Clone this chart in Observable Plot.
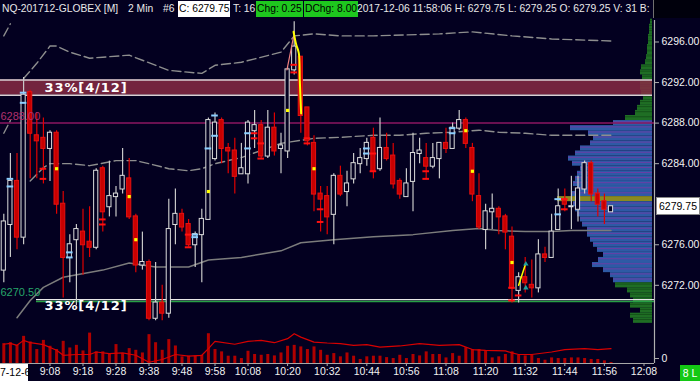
<!DOCTYPE html>
<html><head><meta charset="utf-8">
<script src="https://cdn.jsdelivr.net/npm/d3@7"></script>
<script src="https://cdn.jsdelivr.net/npm/@observablehq/plot@0.6"></script>
<style>
html,body{margin:0;padding:0;background:#030020;}
#wrap{position:relative;width:700px;height:381px;overflow:hidden;background:#030020;font-family:"Liberation Sans",Arial,sans-serif;}
#wrap svg{position:absolute;left:0;}
.hd{position:absolute;top:1px;height:16px;line-height:16px;font-size:10.3px;color:#e8e8e8;white-space:nowrap;z-index:5;}
.ov{position:absolute;z-index:5;font-size:10.5px;white-space:nowrap;text-align:center;}
</style></head>
<body><div id="wrap"></div>
<script>
// ---------- DATA ----------
const firstBar = "2017-12-06T08:54:00Z";
const barMinutes = 2;
const opens  = [6273.5,6278,6282.25,6276.75,6291,6286.75,6286.5,6285.5,6287,6280,6274.75,6276.5,6277.25,6276.25,6275.75,6283.5,6279.75,6280.75,6281.5,6282.5,6278.75,6274,6274.25,6268.75,6270.25,6269.25,6278,6279,6278,6276,6277,6278.5,6284.5,6288.25,6285.5,6285.25,6283,6283,6287.25,6287.75,6284.75,6287.5,6285.5,6285.25,6293.25,6294.5,6289.5,6286,6281,6280.75,6279,6282.75,6281.25,6282.5,6284,6284.5,6286.5,6283.5,6285.5,6284.75,6282.25,6280.75,6282.25,6285,6284.5,6283.75,6284.5,6286,6285.5,6287.5,6288.25,6285.5,6280.75,6277.5,6279.25,6279.5,6278.75,6276.75,6271.5,6272.75,6272,6271.75,6275,6274.75,6277.5,6280.25,6279.75,6279.5,6281.5,6284,6281,6280.25,6279.25];
const highs  = [6279,6285,6285,6292.5,6291.25,6289,6288.5,6287.25,6287.25,6281.25,6277,6278,6279.5,6279.75,6283.5,6283.75,6284.25,6281.75,6285.5,6284.5,6279,6277.25,6274.5,6274.25,6272,6280.5,6281.5,6279.5,6278.5,6277.25,6279.5,6288.5,6289,6288.5,6286,6286.5,6286,6288.25,6289.25,6288.25,6289.25,6289,6287,6293.5,6298,6294.5,6289.5,6286.75,6281.75,6281.75,6283,6283.75,6283.25,6285,6285.5,6286.5,6287.5,6288.5,6287,6286,6282.5,6283.5,6287,6286.5,6286,6286,6286,6287.5,6288,6289.25,6288.5,6286,6283,6280,6281,6279.75,6279,6277.75,6273.25,6274.75,6274.5,6276.5,6275.75,6279,6281.5,6281.5,6282.75,6282.75,6284.25,6284.25,6281.5,6281,6279.75];
const lows   = [6272.25,6274.75,6275.5,6276,6282.5,6282.5,6282,6282.25,6279,6270.75,6272.25,6270,6273,6274.75,6275.5,6277.25,6278.75,6278.75,6281,6278.5,6273.25,6273.5,6268.5,6268.5,6268.5,6268.75,6276,6277.25,6275.75,6273.75,6272.25,6278.5,6284.25,6284,6283,6281,6283,6282,6285.5,6284.5,6284.5,6284.75,6283,6284.5,6292.75,6287,6285.75,6279.25,6277.25,6277,6276,6280.75,6279.75,6282,6283,6283.75,6282.5,6283.25,6284.25,6281.5,6280.5,6280.75,6279.25,6284,6282.5,6283.5,6282.5,6285,6285.5,6287.25,6285.5,6280.25,6277.5,6275.5,6277.5,6277,6275.5,6270.25,6270.25,6271.25,6270.75,6271.25,6274.25,6274.75,6277.5,6279.25,6277.5,6278.25,6281,6280.25,6278.75,6278,6279.25];
const closes = [6278.25,6282.25,6276.75,6290.75,6287,6286.25,6285.5,6287,6280,6274.75,6276,6277.5,6276,6275.75,6283.25,6279.25,6280.75,6281,6282.75,6278.75,6274,6274.25,6268.75,6270.25,6269.25,6277.5,6279,6277.75,6276,6277,6278.5,6288.25,6288,6285.5,6285.25,6282.75,6283.5,6288,6287.75,6284.75,6287.5,6285.25,6285.75,6293.25,6295.5,6288.75,6286.25,6281,6280.5,6278.75,6282.75,6281,6282,6284,6284.5,6286,6283.25,6285.5,6284.5,6282,6281,6282,6285,6285.25,6283.75,6284.5,6286,6285.5,6287.5,6288.25,6286,6281,6277.75,6279.25,6279.5,6278.75,6277.25,6271.75,6272.75,6272.25,6271.75,6275,6274.75,6277.25,6279.75,6280,6279.75,6281.5,6284,6281,6280,6279.5,6279.75];
const volumes = [640,670,585,875,695,450,745,555,450,715,500,585,405,980,375,375,320,610,320,480,425,340,930,670,425,770,565,215,235,235,265,960,450,375,235,235,160,395,290,265,290,245,340,555,585,535,450,535,425,265,320,215,340,235,130,215,235,235,190,160,265,160,290,245,375,290,290,180,320,235,510,450,450,405,180,215,290,375,265,245,265,160,105,180,160,160,180,180,160,130,130,85,31];
const volMAIdx = [0,1,2,3,4,6,8,9,11,13,14,16,18,20,22,24,26,28,30,31,32,35,37,39,41,43,44,45,47,49,51,53,55,57,60,63,66,69,71,73,76,77,78,80,83,85,88,90,92];
const volMAVal = [620,650,585,745,670,610,425,265,290,290,370,320,340,265,40,130,290,235,265,480,715,620,715,745,670,800,960,850,690,660,640,585,610,530,565,640,585,610,450,425,405,340,290,290,370,450,480,450,480];

const timeTickLabels = ["9:08","9:18","9:28","9:38","9:48","9:58","10:08","10:20","10:32","10:44","10:56","11:08","11:20","11:32","11:44","11:56","12:08"];
const priceTicks = [6272,6276,6284,6288,6292,6296];
const lastPrice = 6279.75;

// bands (bar index, price)
const upperBandAIdx = [0,1], upperBandAVal = [6296.6,6297.8];
const upperBandIdx = [3,5,7,8,10,13,15,19,21,25,30,32,36,42,44,47,51,56,66,71,77,83,92];
const upperBandVal = [6292.4,6293.9,6295.6,6295.6,6295.0,6294.4,6294.5,6294.7,6294.2,6293.2,6292.9,6293.7,6294.0,6295.0,6296.6,6296.8,6296.6,6296.6,6296.8,6297.0,6296.6,6296.3,6296.1];
const midBandAIdx = [0,1], midBandAVal = [6287.0,6288.25];
const midBandIdx = [4,6,7,10,13,17,20,22,25,28,30,32,36,42,47,51,56,60,64,68,72,75,79,83,92];
const midBandVal = [6282.3,6283.6,6284.0,6284.0,6283.8,6284.3,6284.3,6284.0,6283.5,6283.3,6283.5,6284.0,6284.6,6286.0,6286.5,6286.6,6286.8,6286.8,6287.0,6287.1,6287.3,6287.1,6287.0,6286.8,6286.8];
const vwapIdx = [2,4,6,9,15,19,23,28,31,36,42,45,50,56,62,68,72,75,79,83,86,92];
const vwapVal = [6268.8,6270.5,6271.8,6272.8,6273.5,6274.2,6273.8,6273.8,6274.5,6274.75,6275.4,6276.2,6276.5,6276.8,6277.0,6277.4,6277.6,6277.4,6277.3,6277.3,6277.4,6277.4];

// markers
const yellowIdx = [8,19,20,31,43,47,70,71,77];
const yellowPrice = [6283.5,6280.75,6276.5,6281.25,6289.25,6283.5,6287.25,6283.25,6274.25];
const blueTickIdx = [1,1,3,3,10,10,29,29,31,32,32,37,37,55,55,68,68,84,84];
const blueTickPrice = [6282.5,6281.75,6291,6290,6275.25,6274.75,6277,6276.75,6285.5,6288.75,6286.75,6287,6285.5,6285.5,6285,6287.5,6287,6280.5,6279];
const redTickIdx = [6,6,15,15,28,28,38,38,39,39,44,44,46,46,48,48,56,56,64,64,77,77,78,85,85];
const redTickPrice = [6283.5,6282.5,6278.5,6278,6277,6275.75,6287,6286.5,6286,6284.5,6293.75,6293,6286.5,6286,6279.5,6278.25,6285,6283.25,6283.25,6282.5,6271.75,6270.5,6271,6280.5,6279.5];
const spikeLineIdx = [43.9,44.3,44.7,44.85,45.05], spikeLineVal = [6297.0,6295.75,6294.9,6292.2,6288.95];
const salmonLineIdx = [42.9,43.9], salmonLineVal = [6293.25,6296.5];
const lowLineIdx = [78.0,79.05], lowLineVal = [6272.0,6274.1];
const tealIdx = [79.1,79.1], tealVal = [6274.1,6271.75];

// levels
const zoneLow = 6290.75, zoneHigh = 6292.25, zoneLabel = "33%[4/12]";
const level6288 = 6288.00, level6270 = 6270.50;

// volume profile
const profilePrices = [6298,6297.5,6297,6296.5,6296,6295.5,6295,6294.5,6294,6293.5,6293,6292.5,6292,6291.5,6291,6290.5,6290,6289.5,6289,6288.5,6288,6287.5,6287,6286.5,6286,6285.5,6285,6284.5,6284,6283.5,6283,6282.5,6282,6281.5,6281,6280.5,6280,6279.5,6279,6278.5,6278,6277.5,6277,6276.5,6276,6275.5,6275,6274.5,6274,6273.5,6273,6272.5,6272,6271.5,6271,6270.5,6270,6269.5,6269,6268.5];
const profileVolumes = [2,3,3,4,4,5,5,6,7,11,12,10,12,12,11,9,12,15,17,27,39,82,64,59,62,72,77,84,80,72,75,77,79,75,80,95,79,77,75,72,70,65,65,62,59,55,49,54,60,49,42,39,37,25,22,19,22,12,22,19];
const valueAreaHigh = 6288.0, valueAreaLow = 6272.5, pocPrice = 6280.5;

// header texts
const headerParts = [
  {text:"NQ-201712-GLOBEX [M]", left:2},
  {text:"2 Min", left:128},
  {text:"#6", left:163},
  {text:"C: 6279.75", left:178, bg:"#ffffff", color:"#000"},
  {text:"T: 16", left:233},
  {text:"Chg: 0.25", left:256, bg:"#1ec81e", color:"#000"},
  {text:"DChg: 8.00", left:304, bg:"#1ec81e", color:"#000"},
  {text:"2017-12-06 11:58:06 H: 6279.75 L: 6279.25 O: 6279.25 V: 31 B:", left:357}
];
const dateLabel = "7-12-6";
const cornerLabel = "8 L";

// ---------- BUILD ----------
const BG = "#030020";
const FONT = '"Liberation Sans", Arial, sans-serif';
const T0 = Date.parse(firstBar);
const t = i => new Date(T0 + i * barMinutes * 60000);
const bars = opens.map((o, i) => ({t: t(i), o, h: highs[i], l: lows[i], c: closes[i], v: volumes[i], up: closes[i] >= o}));
const upBars = bars.filter(d => d.up), dnBars = bars.filter(d => !d.up);
const xDomain = [t(-0.5), t(98.59)];
const yDomain = [6268.53, 6298.12];
const pairs = (idx, val) => idx.map((i, k) => ({t: t(i), p: val[k]}));
const bandData = [
  ...pairs(upperBandAIdx, upperBandAVal).map(d => ({...d, s: "ua"})),
  ...pairs(upperBandIdx, upperBandVal).map(d => ({...d, s: "ub"})),
  ...pairs(midBandAIdx, midBandAVal).map(d => ({...d, s: "ma"})),
  ...pairs(midBandIdx, midBandVal).map(d => ({...d, s: "mb"}))
];
const off = (d, s) => new Date(+d + s * 1000);
const zone = {lo: zoneLow, hi: zoneHigh};

const priceChart = Plot.plot({
  width: 700, height: 320, marginTop: 20, marginBottom: 0, marginLeft: 0, marginRight: 46,
  style: {background: "transparent", color: "#fff", fontFamily: FONT, overflow: "visible"},
  x: {type: "utc", domain: xDomain, axis: null},
  y: {domain: yDomain, axis: null},
  marks: [
    Plot.rect([zone], {x1: () => xDomain[0], x2: () => xDomain[1], y1: "lo", y2: "hi", fill: "#872a44", fillOpacity: 0.85, insetRight: 2}),
    Plot.ruleY([zoneLow, zoneHigh], {stroke: "#d8d0d4", strokeWidth: 1.5, insetRight: 2}),
    Plot.ruleY([level6288], {stroke: "#8c1660", strokeWidth: 1.5}),
    Plot.ruleY([level6270], {stroke: "#e8e8e8", strokeWidth: 1.3, dy: -1, insetLeft: 36}),
    Plot.ruleY([level6270], {stroke: "#27a045", strokeWidth: 1.6, dy: 1, insetLeft: 36}),
    Plot.line(bandData, {x: "t", y: "p", z: "s", stroke: "#8e8e8e", strokeWidth: 1.4, strokeDasharray: "9,4"}),
    Plot.line(pairs(vwapIdx, vwapVal), {x: "t", y: "p", stroke: "#7c7c7c", strokeWidth: 1.5}),
    Plot.ruleX(upBars, {x: "t", y1: "l", y2: "h", stroke: "#c8c8c8", strokeWidth: 1.2}),
    Plot.ruleX(dnBars, {x: "t", y1: "l", y2: "h", stroke: "#e00000", strokeWidth: 1.2}),
    Plot.rect(upBars, {x1: d => off(d.t, -38), x2: d => off(d.t, 38), y1: "o", y2: "c", fill: BG, stroke: "#dcdcdc", strokeWidth: 1, insetTop: -0.5, insetBottom: -0.5}),
    Plot.rect(dnBars, {x1: d => off(d.t, -38), x2: d => off(d.t, 38), y1: "o", y2: "c", fill: "#c80000", stroke: "#e81010", strokeWidth: 1, insetTop: -0.5, insetBottom: -0.5}),
    Plot.ruleY(pairs(blueTickIdx, blueTickPrice), {x1: d => off(d.t, -60), x2: d => off(d.t, 60), y: "p", stroke: "#8ccfff", strokeWidth: 2}),
    Plot.ruleY(pairs(redTickIdx, redTickPrice), {x1: d => off(d.t, -60), x2: d => off(d.t, 60), y: "p", stroke: "#ff1010", strokeWidth: 2}),
    Plot.dot(pairs(yellowIdx, yellowPrice), {x: "t", y: "p", symbol: "square", r: 1.8, fill: "#ffff00", stroke: "none"}),
    Plot.line(pairs(salmonLineIdx, salmonLineVal), {x: "t", y: "p", stroke: "#f08080", strokeWidth: 1.2}),
    Plot.line(pairs(spikeLineIdx, spikeLineVal), {x: "t", y: "p", stroke: "#ffff00", strokeWidth: 2, curve: "catmull-rom"}),
    Plot.line(pairs(lowLineIdx, lowLineVal), {x: "t", y: "p", stroke: "#ffff00", strokeWidth: 1.5}),
    Plot.dot(pairs(tealIdx, tealVal), {x: "t", y: "p", symbol: "triangle", r: 2, fill: "#20a0a0", stroke: "none"}),
    Plot.text([zone], {x: () => xDomain[0], y: d => (d.lo + d.hi) / 2, text: () => zoneLabel, dx: 44, textAnchor: "start", fill: "#ffffff", fontWeight: "bold", fontSize: 13, fontFamily: "DejaVu Sans"}),
    Plot.text([level6270], {x: () => xDomain[0], y: d => d, text: () => zoneLabel, dx: 44, dy: 5, textAnchor: "start", fill: "#ffffff", fontWeight: "bold", fontSize: 13, fontFamily: "DejaVu Sans"}),
    Plot.text([level6288], {x: () => xDomain[0], y: d => d, text: d => d.toFixed(2), dy: -7, textAnchor: "start", fill: "#b0306e", fontSize: 11}),
    Plot.text([level6270], {x: () => xDomain[0], y: d => d, text: d => d.toFixed(2), dy: -8, textAnchor: "start", fill: "#27a56a", fontSize: 11}),
    Plot.ruleX([xDomain[1]], {stroke: "#b0b0b0", strokeWidth: 1.2}),
    Plot.axisY({anchor: "right", ticks: priceTicks, tickFormat: d => d.toFixed(2), tickSize: 4, tickPadding: 3, fontSize: 10.5, fill: "#f2f2f2", stroke: "#b0b0b0", label: null})
  ]
});

const profileData = profilePrices.map((p, k) => ({p, v: profileVolumes[k],
  kind: p === pocPrice ? "poc" : (p > valueAreaHigh || p < valueAreaLow) ? "out" : "va"}));
const fillOf = {poc: "#8a8a20", out: "#1f6e24", va: "#2e5aa5"};
const stripeOf = {poc: "#8a8a20", out: "#15531a", va: "#6a3ea6"};
const profileChart = Plot.plot({
  width: 700, height: 320, marginTop: 20, marginBottom: 0,
  style: {background: "transparent", overflow: "visible"},
  x: {domain: [0, 100], range: [652, 552], axis: null},
  y: {domain: yDomain, axis: null},
  marks: [
    Plot.rect(profileData, {x1: 0, x2: "v", y1: d => d.p - 0.25, y2: d => d.p + 0.25, fill: d => fillOf[d.kind]}),
    Plot.ruleY(profileData, {x1: 0, x2: "v", y: d => d.p + 0.125, stroke: d => stripeOf[d.kind], strokeWidth: 1})
  ]
});

const tickDates = timeTickLabels.map(s => { const [h, m] = s.split(":"); return new Date(Date.UTC(2017, 11, 6, +h, +m)); });
const volChart = Plot.plot({
  width: 700, height: 61, marginTop: 0, marginBottom: 18, marginLeft: 0, marginRight: 46,
  style: {background: "transparent", color: "#fff", fontFamily: FONT, overflow: "visible"},
  x: {type: "utc", domain: xDomain, axis: null},
  y: {domain: [0, 1386], axis: null},
  marks: [
    Plot.ruleX(bars, {x: "t", y1: 0, y2: "v", stroke: "#b00000", strokeWidth: 3}),
    Plot.line(pairs(volMAIdx, volMAVal), {x: "t", y: "p", stroke: "#d80000", strokeWidth: 1.2}),
    Plot.ruleY([0], {stroke: "#a8a8a8", strokeWidth: 1.2}),
    Plot.ruleX([xDomain[1]], {stroke: "#b0b0b0", strokeWidth: 1.2}),
    Plot.axisX({ticks: tickDates, tickFormat: d3.utcFormat("%-H:%M"), tickSize: 3, tickPadding: 1, fontSize: 10.5, fill: "#f0f0f0", stroke: "#a8a8a8", label: null}),
    Plot.axisY({anchor: "right", ticks: [0], tickSize: 4, tickPadding: 3, dy: -5, fontSize: 10.5, fill: "#f0f0f0", stroke: "#a8a8a8", label: null})
  ]
});

const wrap = document.getElementById("wrap");
profileChart.style.top = "0px"; profileChart.style.zIndex = 1;
priceChart.style.top = "0px"; priceChart.style.zIndex = 2;
volChart.style.top = "320px"; volChart.style.zIndex = 2;
wrap.append(profileChart, priceChart, volChart);

priceChart.querySelectorAll("text").forEach(el => { if (el.textContent === zoneLabel) el.setAttribute("letter-spacing", "0.9"); });

// header
headerParts.forEach(p => {
  const s = document.createElement("span");
  s.className = "hd"; s.textContent = p.text; s.style.left = p.left + "px";
  if (p.bg) { s.style.background = p.bg; s.style.color = p.color; s.style.padding = "0 1px"; }
  wrap.append(s);
});
const dark = document.createElement("div");
dark.style.cssText = "position:absolute;left:653px;top:0;width:47px;height:18px;background:#00000c;border-left:1px solid #707070;z-index:5";
wrap.append(dark);

// last price box, placed with the chart's y scale
const yLast = priceChart.scale("y").apply(lastPrice);
const lp = document.createElement("div");
lp.className = "ov"; lp.textContent = lastPrice.toFixed(2);
lp.style.cssText += `left:656px;top:${yLast - 9}px;width:42px;height:16px;line-height:16px;background:#fff;color:#000;border:1px solid #888;`;
wrap.append(lp);

const dl = document.createElement("div");
dl.className = "ov"; dl.textContent = dateLabel;
dl.style.cssText += "left:0;top:364px;width:28px;height:17px;line-height:17px;background:#fff;color:#000;";
wrap.append(dl);
const cl = document.createElement("div");
cl.className = "ov"; cl.textContent = cornerLabel;
cl.style.cssText += "left:680px;top:365px;width:20px;height:16px;line-height:16px;background:#14c814;color:#fff;";
wrap.append(cl);
</script>
</body></html>
